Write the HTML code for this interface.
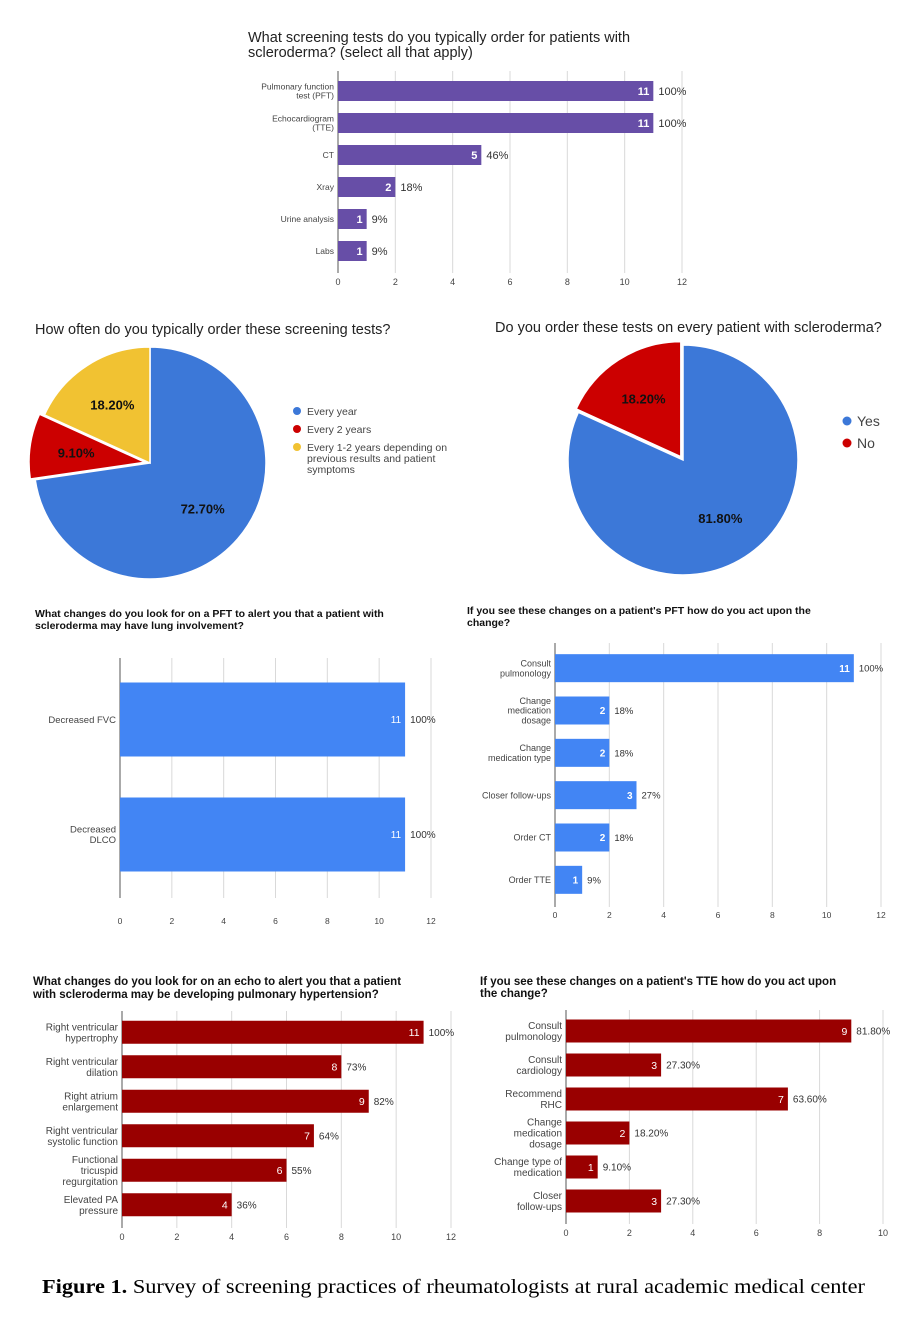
<!DOCTYPE html>
<html><head><meta charset="utf-8">
<style>
html,body{margin:0;padding:0;background:#fff;}
svg{display:block;font-family:"Liberation Sans",sans-serif;}
</style></head>
<body>
<svg id="fig" width="921" height="1317" viewBox="0 0 921 1317" xmlns="http://www.w3.org/2000/svg">
<rect width="921" height="1317" fill="#fff"/>
<!-- titles -->
<text x="248" y="42" font-size="14.5" fill="#222">What screening tests do you typically order for patients with</text>
<text x="248" y="57" font-size="14.5" fill="#222">scleroderma? (select all that apply)</text>
<text x="35" y="334" font-size="14.5" fill="#222">How often do you typically order these screening tests?</text>
<text x="495" y="332" font-size="14.5" fill="#222">Do you order these tests on every patient with scleroderma?</text>
<text x="35" y="617" font-size="10.5" font-weight="bold" fill="#111">What changes do you look for on a PFT to alert you that a patient with</text>
<text x="35" y="629" font-size="10.5" font-weight="bold" fill="#111">scleroderma may have lung involvement?</text>
<text x="467" y="614" font-size="10.5" font-weight="bold" fill="#111">If you see these changes on a patient's PFT how do you act upon the</text>
<text x="467" y="626" font-size="10.5" font-weight="bold" fill="#111">change?</text>
<text x="33" y="985" font-size="11.5" font-weight="bold" fill="#111">What changes do you look for on an echo to alert you that a patient</text>
<text x="33" y="998" font-size="11.5" font-weight="bold" fill="#111">with scleroderma may be developing pulmonary hypertension?</text>
<text x="480" y="985" font-size="11.5" font-weight="bold" fill="#111">If you see these changes on a patient's TTE how do you act upon</text>
<text x="480" y="997" font-size="11.5" font-weight="bold" fill="#111">the change?</text>
<text x="42" y="1293" font-size="20" font-family="'Liberation Serif',serif" fill="#000" textLength="823" lengthAdjust="spacingAndGlyphs"><tspan font-weight="bold">Figure 1.</tspan> Survey of screening practices of rheumatologists at rural academic medical center</text>
<g id="layer"></g>
</svg>
<script>
// Chart 1
const c1Cats = [["Pulmonary function","test (PFT)"],["Echocardiogram","(TTE)"],["CT"],["Xray"],["Urine analysis"],["Labs"]];
const c1Vals = [11,11,5,2,1,1];
const c1Pct = ["100%","100%","46%","18%","9%","9%"];
const c1Ticks = [0,2,4,6,8,10,12];
// Chart 3
const c3Cats = [["Decreased FVC"],["Decreased","DLCO"]];
const c3Vals = [11,11];
const c3Pct = ["100%","100%"];
const c3Ticks = [0,2,4,6,8,10,12];
// Chart 4
const c4Cats = [["Consult","pulmonology"],["Change","medication","dosage"],["Change","medication type"],["Closer follow-ups"],["Order CT"],["Order TTE"]];
const c4Vals = [11,2,2,3,2,1];
const c4Pct = ["100%","18%","18%","27%","18%","9%"];
const c4Ticks = [0,2,4,6,8,10,12];
// Chart 5
const c5Cats = [["Right ventricular","hypertrophy"],["Right ventricular","dilation"],["Right atrium","enlargement"],["Right ventricular","systolic function"],["Functional","tricuspid","regurgitation"],["Elevated PA","pressure"]];
const c5Vals = [11,8,9,7,6,4];
const c5Pct = ["100%","73%","82%","64%","55%","36%"];
const c5Ticks = [0,2,4,6,8,10,12];
// Chart 6
const c6Cats = [["Consult","pulmonology"],["Consult","cardiology"],["Recommend","RHC"],["Change","medication","dosage"],["Change type of","medication"],["Closer","follow-ups"]];
const c6Vals = [9,3,7,2,1,3];
const c6Pct = ["81.80%","27.30%","63.60%","18.20%","9.10%","27.30%"];
const c6Ticks = [0,2,4,6,8,10];
// Pies
const p1Labels = ["Every year","Every 2 years","Every 1-2 years depending on previous results and patient symptoms"];
const p1Vals = [72.7,9.1,18.2];
const p2Labels = ["Yes","No"];
const p2Vals = [81.8,18.2];

const NS="http://www.w3.org/2000/svg";
const layer=document.getElementById('layer');
function mk(tag,attrs,parent){const e=document.createElementNS(NS,tag);for(const k in attrs)e.setAttribute(k,attrs[k]);(parent||layer).appendChild(e);return e;}

function barChart(o){
  const g=mk('g',{});
  
  
  const max=o.ticks[o.ticks.length-1];
  const sx=v=>o.x0+(o.x1-o.x0)*v/max;
  const n=o.cats.length;
  const step=(o.yBot-o.yTop)/n;
  const cy=i=>o.yTop+step*(i+0.5);
  o.ticks.forEach(t=>{
    if(t>0){const l=mk('line',{x1:sx(t),x2:sx(t),y1:o.yTop-4,y2:o.yBot+6,stroke:'#d9d9d9','stroke-width':1},g);
      
      }
    const tx=mk('text',{x:sx(t),y:o.tickY,'font-size':o.tickFs,'text-anchor':'middle',fill:'#444'},g);
    tx.textContent=t;
    
    
  });
  const ax=mk('line',{x1:o.x0,x2:o.x0,y1:o.yTop-4,y2:o.yBot+6,stroke:'#555','stroke-width':1},g);
  
  
  o.vals.forEach((v,i)=>{
    const r=mk('rect',{x:o.x0,y:cy(i)-o.bh/2,width:sx(v)-o.x0,height:o.bh,fill:o.color},g);
    
    
    const vt=mk('text',{x:sx(v)-4,y:cy(i)+o.valFs*0.36,'font-size':o.valFs,'font-weight':o.valBold?'bold':'normal','text-anchor':'end',fill:'#fff'},g);
    vt.textContent=v;
    
    
    const pt=mk('text',{x:sx(v)+5,y:cy(i)+o.pctFs*0.36,'font-size':o.pctFs,fill:'#333'},g);
    pt.textContent=o.pct[i];
    
    
    const lines=o.cats[i];
    const lh=o.catFs*1.1;
    lines.forEach((s,j)=>{
      const ct=mk('text',{x:o.x0-4,y:cy(i)+o.catFs*0.36+(j-(lines.length-1)/2)*lh,'font-size':o.catFs,'text-anchor':'end',fill:'#444'},g);
      ct.textContent=s;
      
      
    });
  });
}
barChart({name:'screening-tests-chart',cats:c1Cats,vals:c1Vals,pct:c1Pct,ticks:c1Ticks,x0:338,x1:682,yTop:75,yBot:267,bh:20,color:'#674ea7',tickY:285,tickFs:9,catFs:8.5,valFs:11,valBold:true,pctFs:11});
barChart({name:'pft-changes-chart',cats:c3Cats,vals:c3Vals,pct:c3Pct,ticks:c3Ticks,x0:120,x1:431,yTop:662,yBot:892,bh:74,color:'#4285f4',tickY:924,tickFs:8.5,catFs:9.5,valFs:10,valBold:false,pctFs:10});
barChart({name:'pft-actions-chart',cats:c4Cats,vals:c4Vals,pct:c4Pct,ticks:c4Ticks,x0:555,x1:881,yTop:647,yBot:901,bh:28,color:'#4285f4',tickY:918,tickFs:8.5,catFs:9,valFs:10,valBold:true,pctFs:9.5});
barChart({name:'echo-changes-chart',cats:c5Cats,vals:c5Vals,pct:c5Pct,ticks:c5Ticks,x0:122,x1:451,yTop:1015,yBot:1222,bh:23,color:'#990000',tickY:1240,tickFs:9,catFs:10,valFs:10.5,valBold:false,pctFs:10});
barChart({name:'tte-actions-chart',cats:c6Cats,vals:c6Vals,pct:c6Pct,ticks:c6Ticks,x0:566,x1:883,yTop:1014,yBot:1218,bh:23,color:'#990000',tickY:1236,tickFs:9,catFs:10,valFs:10.5,valBold:false,pctFs:10});

function pie(o){
  const g=mk('g',{});
  
  
  const tot=o.vals.reduce((a,b)=>a+b,0);
  let a0=0;
  o.vals.forEach((v,i)=>{
    const a1=a0+v/tot*2*Math.PI;
    const mid=(a0+a1)/2;
    const off=o.explode[i]||0;
    const cx=o.cx+off*Math.sin(mid),cy=o.cy-off*Math.cos(mid);
    const p=(a)=>[cx+o.r*Math.sin(a),cy-o.r*Math.cos(a)];
    const [x0,y0]=p(a0),[x1,y1]=p(a1);
    const large=(a1-a0)>Math.PI?1:0;
    const s=mk('path',{d:`M${cx},${cy} L${x0},${y0} A${o.r},${o.r} 0 ${large} 1 ${x1},${y1} Z`,fill:o.colors[i],stroke:'#fff','stroke-width':1.5},g);
    
    
    const lr=o.r*0.6;
    const t=mk('text',{x:cx+lr*Math.sin(mid),y:cy-lr*Math.cos(mid)+5,'font-size':13,'font-weight':'bold','text-anchor':'middle',fill:'#111'},g);
    t.textContent=v.toFixed(2)+'%';
    
    
    a0=a1;
  });
  o.labels.forEach((lab,i)=>{
    const y=o.ly+i*o.lstep;
    const d=mk('circle',{cx:o.lx,cy:y,r:o.dotR,fill:o.colors[i]},g);
    
    
    const lines=o.wrap[i]||[lab];
    lines.forEach((s,j)=>{
      const t=mk('text',{x:o.lx+10,y:y+o.lfs*0.36+j*o.lfs*1.05,'font-size':o.lfs,fill:'#444'},g);
      t.textContent=s;
      
      
    });
  });
}
pie({name:'order-frequency-pie',vals:p1Vals,labels:p1Labels,colors:['#3c78d8','#cc0000','#f1c232'],explode:[0,5,0],cx:150,cy:463,r:116,lx:297,ly:411,lstep:18,dotR:4,lfs:10.5,
  wrap:[["Every year"],["Every 2 years"],["Every 1-2 years depending on","previous results and patient","symptoms"]]});
pie({name:'every-patient-pie',vals:p2Vals,labels:p2Labels,colors:['#3c78d8','#cc0000'],explode:[0,4],cx:683,cy:460,r:115,lx:847,ly:421,lstep:22,dotR:4.5,lfs:14,wrap:[]});
</script>
</body></html>
